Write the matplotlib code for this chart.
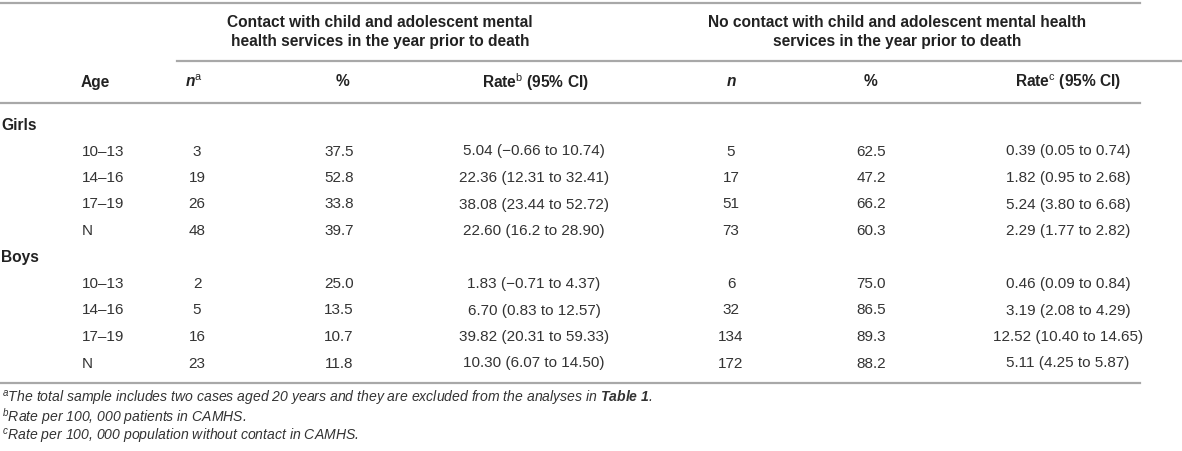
import matplotlib.pyplot as plt

plt.rcParams['font.family'] = ['Liberation Sans', 'DejaVu Sans']
plt.rcParams['mathtext.fontset'] = 'custom'
plt.rcParams['mathtext.rm'] = 'Liberation Sans'
plt.rcParams['mathtext.it'] = 'Liberation Sans:italic'
plt.rcParams['mathtext.bf'] = 'Liberation Sans:bold'
plt.rcParams['mathtext.bfit'] = 'Liberation Sans:bold:italic'

# data
sexes = ['Girls', 'Boys']
ages = ['10–13', '14–16', '17–19', 'N']
contact_n = [[3, 19, 26, 48], [2, 5, 16, 23]]
contact_pct = [[37.5, 52.8, 33.8, 39.7], [25.0, 13.5, 10.7, 11.8]]
contact_rate = [['5.04 (−0.66 to 10.74)', '22.36 (12.31 to 32.41)',
                 '38.08 (23.44 to 52.72)', '22.60 (16.2 to 28.90)'],
                ['1.83 (−0.71 to 4.37)', '6.70 (0.83 to 12.57)',
                 '39.82 (20.31 to 59.33)', '10.30 (6.07 to 14.50)']]
nocontact_n = [[5, 17, 51, 73], [6, 32, 134, 172]]
nocontact_pct = [[62.5, 47.2, 66.2, 60.3], [75.0, 86.5, 89.3, 88.2]]
nocontact_rate = [['0.39 (0.05 to 0.74)', '1.82 (0.95 to 2.68)',
                   '5.24 (3.80 to 6.68)', '2.29 (1.77 to 2.82)'],
                  ['0.46 (0.09 to 0.84)', '3.19 (2.08 to 4.29)',
                   '12.52 (10.40 to 14.65)', '5.11 (4.25 to 5.87)']]
group_titles = ['Contact with child and adolescent mental\nhealth services in the year prior to death',
                'No contact with child and adolescent mental health\nservices in the year prior to death']
footnotes = [r'$^{\mathit{a}}$The total sample includes two cases aged 20 years and they are excluded from the analyses in $\mathbfit{Table\ 1}$.',
             r'$^{\mathit{b}}$Rate per 100, 000 patients in CAMHS.',
             r'$^{\mathit{c}}$Rate per 100, 000 population without contact in CAMHS.']

W, H = 1182, 451
fig = plt.figure(figsize=(W / 100, H / 100), dpi=100)
ax = fig.add_axes([0, 0, 1, 1])
ax.set_xlim(0, W)
ax.set_ylim(H, 0)
ax.axis('off')

fs = 11
hfs = 11.2
txt = '#333333'
head = '#222222'
rule = '#a8a8a8'

# rules
ax.plot([0, 1140], [3, 3], color=rule, lw=1.6)
ax.plot([177, W], [61, 61], color=rule, lw=1.6)
ax.plot([0, 1140], [103, 103], color=rule, lw=1.6)
ax.plot([0, 1140], [383, 383], color=rule, lw=1.6)

# group headers
ax.text(380, 32, group_titles[0], ha='center', va='center', fontsize=hfs,
        fontweight='bold', color=head, linespacing=1.3)
ax.text(897, 32, group_titles[1], ha='center', va='center', fontsize=hfs,
        fontweight='bold', color=head, linespacing=1.3)

# column headers
hy = 82
ax.text(81, hy, 'Age', ha='left', va='center', fontsize=hfs, fontweight='bold', color=head)
ax.text(194, hy, r'$\mathbfit{n}^{\mathrm{a}}$', ha='center', va='center', fontsize=hfs, color=head)
ax.text(342, hy, '%', ha='center', va='center', fontsize=hfs, fontweight='bold', color=head)
ax.text(535, hy, r'Rate$^{\mathrm{b}}$ (95% CI)', ha='center', va='center', fontsize=hfs,
        fontweight='bold', color=head)
ax.text(731, hy, r'$\mathbfit{n}$', ha='center', va='center', fontsize=hfs, color=head)
ax.text(871, hy, '%', ha='center', va='center', fontsize=hfs, fontweight='bold', color=head)
ax.text(1068, hy, r'Rate$^{\mathrm{c}}$ (95% CI)', ha='center', va='center', fontsize=hfs,
        fontweight='bold', color=head)

# body
pitch = 26.5
y = 125
for s, sex in enumerate(sexes):
    ax.text(1, y, sex, ha='left', va='center', fontsize=hfs, fontweight='bold', color=head)
    y += pitch
    for i, age in enumerate(ages):
        ax.text(82, y, age, ha='left', va='center', fontsize=fs, color=txt)
        ax.text(197, y, str(contact_n[s][i]), ha='center', va='center', fontsize=fs, color=txt)
        ax.text(339, y, f'{contact_pct[s][i]:.1f}', ha='center', va='center', fontsize=fs, color=txt)
        ax.text(534, y, contact_rate[s][i], ha='center', va='center', fontsize=fs, color=txt)
        ax.text(731, y, str(nocontact_n[s][i]), ha='center', va='center', fontsize=fs, color=txt)
        ax.text(871, y, f'{nocontact_pct[s][i]:.1f}', ha='center', va='center', fontsize=fs, color=txt)
        ax.text(1068, y, nocontact_rate[s][i], ha='center', va='center', fontsize=fs, color=txt)
        y += pitch

# footnotes
for k, note in enumerate(footnotes):
    ax.text(2, 398 + 19 * k, note, ha='left', va='center', fontsize=10.1,
            fontstyle='italic', color=txt)

fig.savefig('out.png', dpi=100)
